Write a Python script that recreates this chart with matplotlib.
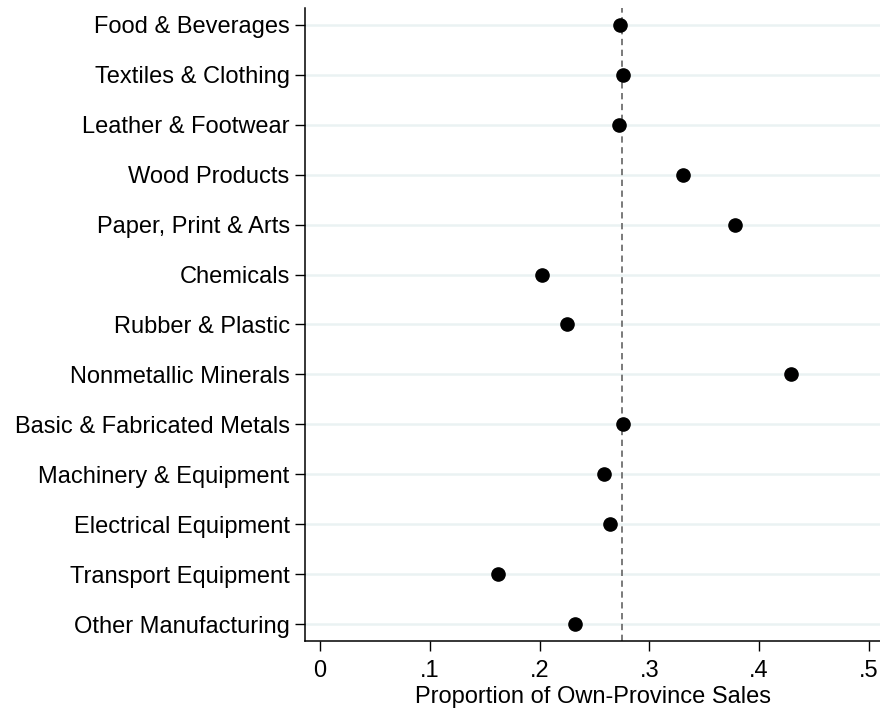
import matplotlib
matplotlib.use("Agg")
import matplotlib.pyplot as plt
import numpy as np

plt.rcParams['font.family'] = ['Liberation Sans', 'DejaVu Sans']

# industries, top to bottom
industries = [
    "Food & Beverages", "Textiles & Clothing", "Leather & Footwear",
    "Wood Products", "Paper, Print & Arts", "Chemicals", "Rubber & Plastic",
    "Nonmetallic Minerals", "Basic & Fabricated Metals",
    "Machinery & Equipment", "Electrical Equipment", "Transport Equipment",
    "Other Manufacturing",
]
own_share = [0.273, 0.276, 0.272, 0.331, 0.378, 0.202, 0.225,
             0.429, 0.276, 0.259, 0.264, 0.162, 0.232]
mean_share = 0.275

xticks = [0, 0.1, 0.2, 0.3, 0.4, 0.5]
xtick_labels = ["0", ".1", ".2", ".3", ".4", ".5"]

fig = plt.figure(figsize=(8.8, 7.13), dpi=100)
ax = fig.add_axes([0.3466, 0.101, 0.6534, 0.8878])

ypos = np.arange(len(industries))
for y in ypos:
    ax.axhline(y, color='#eaf2f3', lw=1.8, zorder=0)
ax.axvline(mean_share, color='#707070', lw=1.3, ls=(0, (3.5, 2.5)), zorder=1)
ax.plot(own_share, ypos, 'o', color='black', ms=9.5, zorder=3)

ax.set_xlim(-0.0137, 0.5102)
ax.set_ylim(12.34, -0.34)
ax.set_yticks(ypos)
ax.set_yticklabels(industries, fontsize=17)
ax.set_xticks(xticks)
ax.set_xticklabels(xtick_labels, fontsize=17)
ax.tick_params(axis='both', length=7, width=1, color='black')
ax.tick_params(axis='y', pad=4)
ax.tick_params(axis='x', pad=6.5)
ax.set_xlabel("Proportion of Own-Province Sales", fontsize=17, labelpad=3)

for s in ['top', 'right']:
    ax.spines[s].set_visible(False)
for s in ['left', 'bottom']:
    ax.spines[s].set_linewidth(1.1)

fig.savefig("out.png", dpi=100)
